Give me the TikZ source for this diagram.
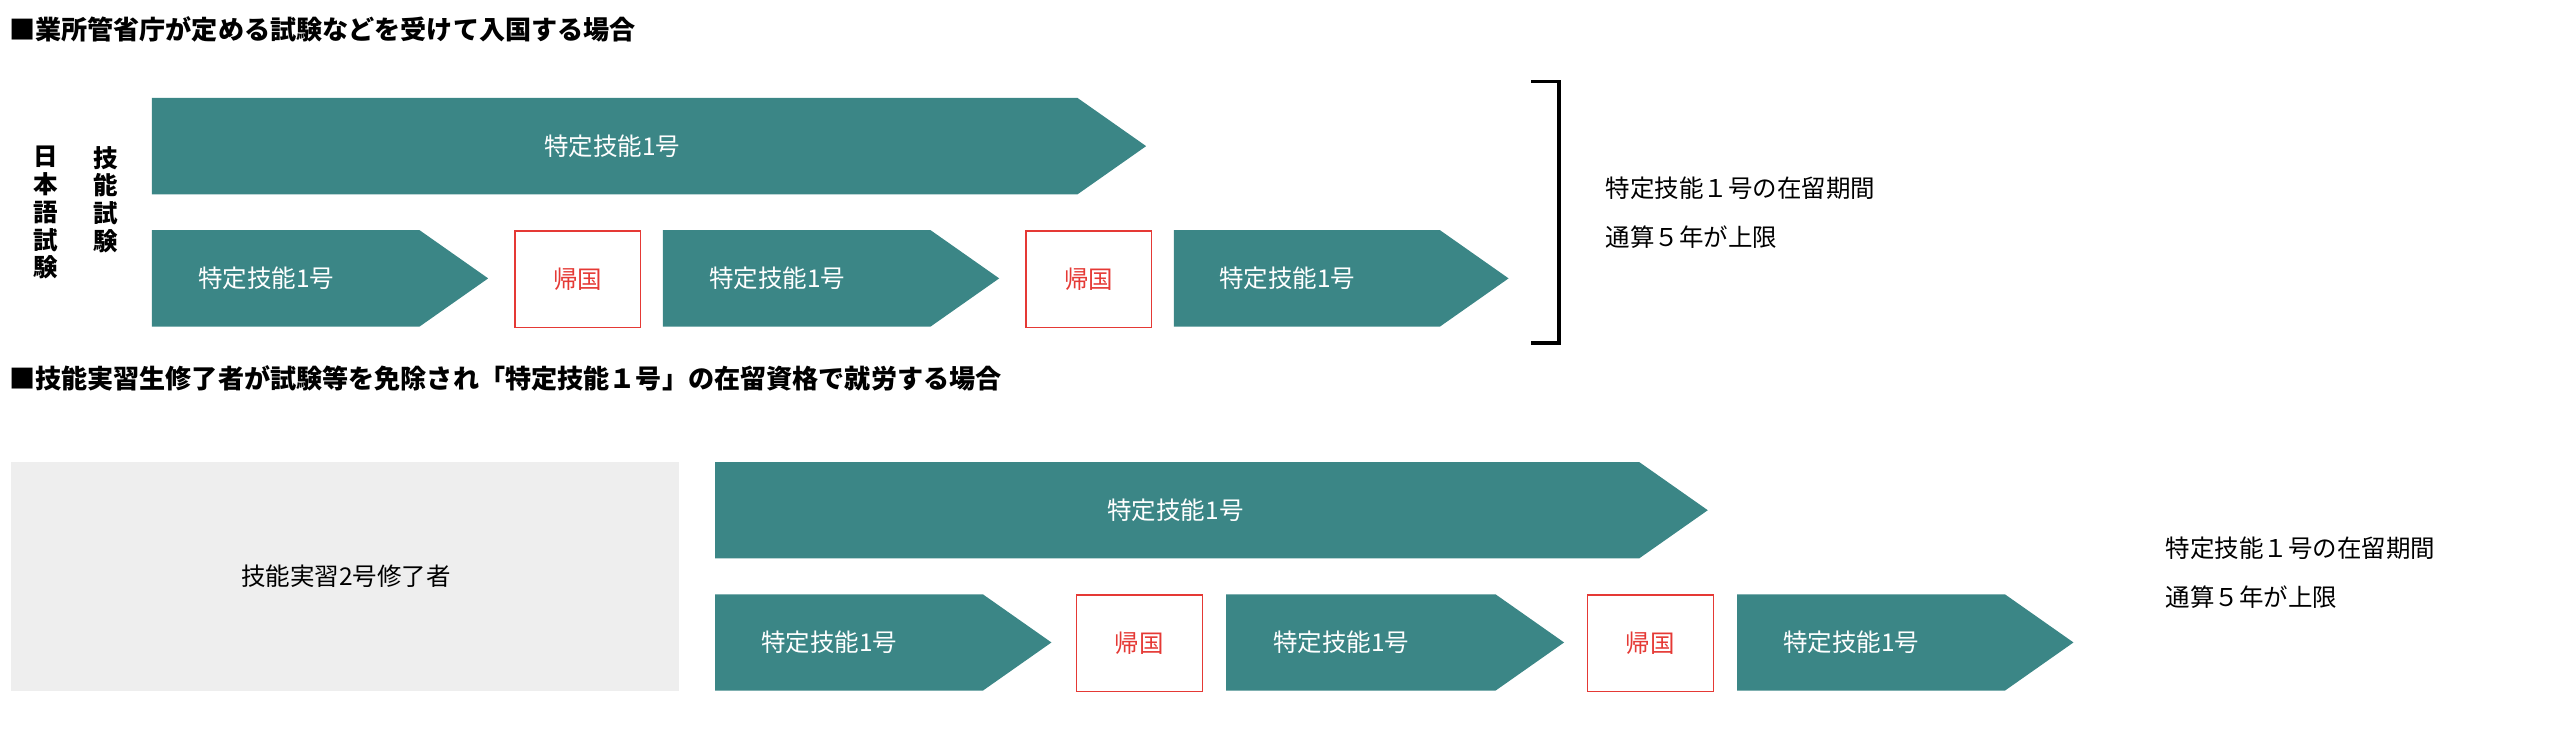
\documentclass[tikz,border=0pt]{standalone}
\usepackage{fontspec}
\setmainfont{Noto Sans CJK JP}
\begin{document}
\begin{tikzpicture}[x=1pt,y=-1pt,
  ar/.style={fill=teal0,draw=none},
  tx/.style={font=\fontsize{15}{18}\selectfont,text=white},
  bx/.style={draw=red0,line width=0.8pt,minimum width=77pt,minimum height=59pt,font=\fontsize{15}{18}\selectfont,text=red0,anchor=north west,inner sep=0},
  lb/.style={font=\fontsize{15}{18}\selectfont,anchor=west},
  hd/.style={font=\fontsize{16}{20}\selectfont\bfseries,anchor=west}]
\definecolor{teal0}{HTML}{3B8686}
\definecolor{red0}{HTML}{E53935}
\definecolor{gray0}{HTML}{EEEEEE}
\useasboundingbox (0,0) rectangle (1568,459);
\node[hd] (h1) at (2,18) {■業所管省庁が定める試験などを受けて入国する場合};
\node[hd] (h2) at (2,232) {■技能実習生修了者が試験等を免除され「特定技能１号」の在留資格で就労する場合};
% section 1
\fill[teal0] (93,60) -- (660,60) -- (702,89.5) -- (660,119) -- (93,119) -- cycle;
\node[tx] (a0) at (375,89.5) {特定技能1号};
\foreach \s/\e/\n in {93/257/a1,406/570/a2,719/882/a3}{
  \fill[teal0] (\s,141) -- (\e,141) -- (\e+42,170.5) -- (\e,200) -- (\s,200) -- cycle;
  \node[tx] (\n) at (\s/2+\e/2-12,170.5) {特定技能1号};}
\node[bx] (b1) at (315,141) {帰国};
\node[bx] (b2) at (628,141) {帰国};
\node[font=\fontsize{15}{17}\selectfont\bfseries,align=center,anchor=north] (v1) at (28,86) {日\\本\\語\\試\\験};
\node[font=\fontsize{15}{17}\selectfont\bfseries,align=center,anchor=north] (v2) at (65,86) {技\\能\\試\\験};
\draw[line width=2.2pt] (938,50) -- (955,50) -- (955,210) -- (938,210);
\node[lb] (r1) at (980,115) {特定技能１号の在留期間};
\node[lb] (r2) at (980,145) {通算５年が上限};
% section 2
\fill[gray0] (7,283) rectangle (416,423);
\node[font=\fontsize{15}{18}\selectfont] (g) at (212,353) {技能実習2号修了者};
\fill[teal0] (438,283) -- (1004,283) -- (1046,312.5) -- (1004,342) -- (438,342) -- cycle;
\node[tx] (c0) at (720,312.5) {特定技能1号};
\foreach \s/\e/\n in {438/602/c1,751/916/c2,1064/1228/c3}{
  \fill[teal0] (\s,364) -- (\e,364) -- (\e+42,393.5) -- (\e,423) -- (\s,423) -- cycle;
  \node[tx] (\n) at (\s/2+\e/2-12,393.5) {特定技能1号};}
\node[bx] (d1) at (659,364) {帰国};
\node[bx] (d2) at (972,364) {帰国};
\node[lb] (s1) at (1323,336) {特定技能１号の在留期間};
\node[lb] (s2) at (1323,366) {通算５年が上限};
\end{tikzpicture}
\end{document}
